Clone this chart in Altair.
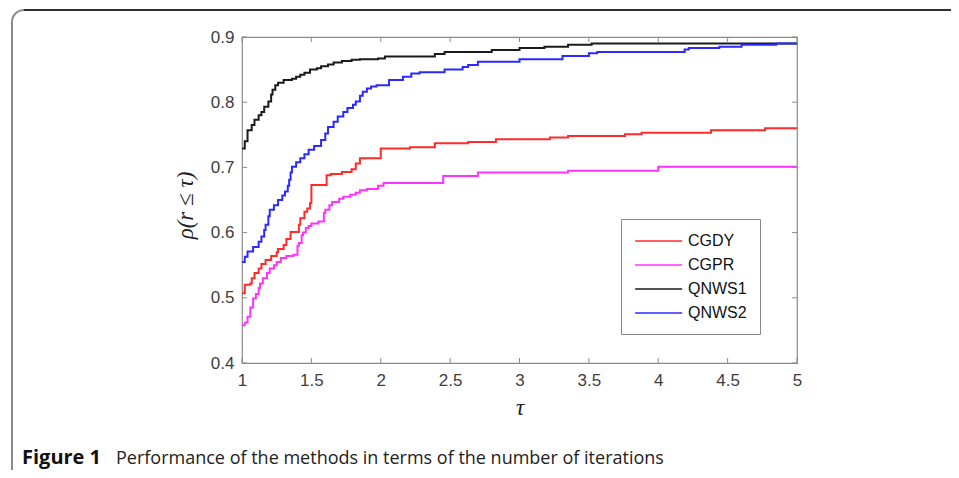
import altair as alt
import pandas as pd

methods = ["CGDY", "CGPR", "QNWS1", "QNWS2"]
colors = ["#ff2a2a", "#ff33ff", "#1a1a1a", "#2a2aff"]

cgdy_tau = [1.00, 1.02, 1.06, 1.07, 1.09, 1.12, 1.14, 1.17, 1.21, 1.25, 1.26, 1.30, 1.32, 1.35,
            1.41, 1.42, 1.45, 1.47, 1.49, 1.50, 1.61, 1.64, 1.72, 1.79, 1.82, 1.85, 2.00, 2.21,
            2.39, 2.63, 2.83, 3.22, 3.35, 3.76, 3.88, 4.38, 4.77, 5.00]
cgdy_rho = [0.507, 0.520, 0.522, 0.530, 0.538, 0.545, 0.552, 0.558, 0.564, 0.570, 0.575, 0.581,
            0.590, 0.601, 0.612, 0.622, 0.632, 0.637, 0.645, 0.673, 0.688, 0.690, 0.693, 0.697,
            0.706, 0.714, 0.729, 0.731, 0.737, 0.739, 0.743, 0.746, 0.748, 0.751, 0.753, 0.757,
            0.760, 0.760]

cgpr_tau = [1.00, 1.02, 1.04, 1.06, 1.08, 1.10, 1.12, 1.13, 1.15, 1.18, 1.20, 1.23, 1.25, 1.28,
            1.32, 1.37, 1.40, 1.41, 1.43, 1.44, 1.46, 1.48, 1.50, 1.55, 1.59, 1.60, 1.63, 1.65,
            1.70, 1.73, 1.78, 1.82, 1.85, 1.90, 1.98, 2.02, 2.45, 2.70, 3.35, 4.00, 5.00]
cgpr_rho = [0.458, 0.462, 0.471, 0.485, 0.499, 0.506, 0.515, 0.522, 0.530, 0.538, 0.545, 0.550,
            0.555, 0.561, 0.564, 0.566, 0.580, 0.584, 0.596, 0.600, 0.607, 0.610, 0.614, 0.617,
            0.630, 0.635, 0.642, 0.647, 0.652, 0.655, 0.658, 0.661, 0.665, 0.667, 0.672, 0.676,
            0.687, 0.692, 0.695, 0.701, 0.701]

qnws1_tau = [1.00, 1.02, 1.04, 1.07, 1.09, 1.12, 1.14, 1.16, 1.19, 1.21, 1.22, 1.24, 1.26, 1.30,
             1.36, 1.39, 1.42, 1.45, 1.49, 1.54, 1.57, 1.62, 1.66, 1.72, 1.79, 1.85, 1.98, 2.03,
             2.39, 2.46, 2.80, 3.00, 3.18, 3.35, 3.52, 5.00]
qnws1_rho = [0.729, 0.740, 0.757, 0.765, 0.773, 0.780, 0.785, 0.793, 0.801, 0.812, 0.819, 0.826,
             0.830, 0.834, 0.836, 0.839, 0.842, 0.845, 0.850, 0.852, 0.855, 0.858, 0.861, 0.863,
             0.865, 0.866, 0.867, 0.870, 0.874, 0.877, 0.880, 0.883, 0.885, 0.888, 0.890, 0.890]

qnws2_tau = [1.00, 1.02, 1.04, 1.08, 1.12, 1.14, 1.16, 1.17, 1.19, 1.20, 1.23, 1.26, 1.29, 1.31,
             1.33, 1.34, 1.35, 1.36, 1.39, 1.42, 1.45, 1.48, 1.52, 1.57, 1.60, 1.62, 1.66, 1.69,
             1.73, 1.76, 1.80, 1.82, 1.85, 1.87, 1.90, 1.93, 1.97, 2.06, 2.16, 2.22, 2.28, 2.46,
             2.59, 2.63, 2.70, 3.00, 3.31, 3.50, 3.56, 4.19, 4.22, 4.44, 4.60, 4.85, 5.00]
qnws2_rho = [0.555, 0.563, 0.571, 0.578, 0.586, 0.594, 0.604, 0.612, 0.625, 0.635, 0.642, 0.650,
             0.657, 0.663, 0.672, 0.681, 0.692, 0.701, 0.708, 0.714, 0.720, 0.727, 0.733, 0.742,
             0.752, 0.762, 0.770, 0.778, 0.785, 0.791, 0.796, 0.801, 0.810, 0.816, 0.821, 0.824,
             0.826, 0.834, 0.839, 0.844, 0.846, 0.850, 0.854, 0.857, 0.862, 0.866, 0.871, 0.875,
             0.877, 0.881, 0.883, 0.885, 0.888, 0.890, 0.890]

x_ticks = [1, 1.5, 2, 2.5, 3, 3.5, 4, 4.5, 5]
y_ticks = [0.4, 0.5, 0.6, 0.7, 0.8, 0.9]

caption_bold = "Figure 1"
caption_text = "Performance of the methods in terms of the number of iterations"

W, H = 555, 326

series = {
    "CGDY": (cgdy_tau, cgdy_rho),
    "CGPR": (cgpr_tau, cgpr_rho),
    "QNWS1": (qnws1_tau, qnws1_rho),
    "QNWS2": (qnws2_tau, qnws2_rho),
}
rows = []
for order, m in enumerate(methods):
    t, r = series[m]
    for a, b in zip(t, r):
        rows.append({"method": m, "tau": a, "rho": b, "order": order})
df = pd.DataFrame(rows)

xs = alt.Scale(domain=[1, 5], nice=False, zero=False)
ys = alt.Scale(domain=[0.4, 0.9], nice=False, zero=False)

x_axis = alt.Axis(values=x_ticks, format="~g", title="τ", grid=False, ticks=False,
                  tickSize=0, domain=False, labelPadding=9, labelFontSize=17,
                  labelFlush=False,
                  labelFont="Liberation Sans", labelColor="#404040",
                  titleFont="Liberation Serif", titleFontStyle="italic",
                  titleFontWeight="normal", titleFontSize=23, titleColor="#222",
                  titleY=44, titleBaseline="middle")
y_axis = alt.Axis(values=y_ticks, format=".1f", title="ρ(r ≤ τ)", grid=False,
                  ticks=False, tickSize=0, domain=False, labelPadding=8,
                  labelFontSize=17, labelFlush=False,
                  labelFont="Liberation Sans", labelColor="#404040",
                  titleFont="Liberation Serif", titleFontStyle="italic",
                  titleFontWeight="normal", titleFontSize=23, titleColor="#222",
                  titleX=-57, titleY=H / 2 + 5, titleBaseline="middle", titleAngle=-90)

# frame around the figure
frame = alt.Chart(pd.DataFrame({"a": [0]})).mark_rect(
    fill=None, stroke="#8a8a8a", strokeWidth=2, cornerRadiusTopLeft=12
).encode(
    x=alt.value(-230), x2=alt.value(W + 300),
    y=alt.value(-27), y2=alt.value(H + 300),
)
frame_top = alt.Chart(pd.DataFrame({"a": [0]})).mark_rule(
    color="#111", strokeWidth=1.5
).encode(x=alt.value(-218), x2=alt.value(W + 300), y=alt.value(-27))

lines = alt.Chart(df).mark_line(interpolate="step-after", strokeWidth=2, clip=True).encode(
    x=alt.X("tau:Q", scale=xs, axis=x_axis),
    y=alt.Y("rho:Q", scale=ys, axis=y_axis),
    color=alt.Color("method:N", scale=alt.Scale(domain=methods, range=colors),
                    legend=alt.Legend(title=None, orient="none", legendX=379, legendY=182,
                                      symbolType="M-1,0H5", symbolSize=245,
                                      symbolStrokeWidth=1.5, labelFontSize=16,
                                      labelFont="Liberation Sans", labelColor="#111",
                                      padding=13, strokeColor="#8a8a8a", fillColor="white",
                                      rowPadding=7, labelOffset=36)),
    order="order:Q",
    detail="method:N",
)

xt = pd.DataFrame({"v": x_ticks})
yt = pd.DataFrame({"v": y_ticks})
tick_color = "#8a8a8a"
tb = alt.Chart(xt).mark_rule(color=tick_color).encode(x=alt.X("v:Q", scale=xs, axis=x_axis), y=alt.value(H), y2=alt.value(H - 5))
tt = alt.Chart(xt).mark_rule(color=tick_color).encode(x=alt.X("v:Q", scale=xs, axis=x_axis), y=alt.value(0), y2=alt.value(5))
tl = alt.Chart(yt).mark_rule(color=tick_color).encode(y=alt.Y("v:Q", scale=ys, axis=y_axis), x=alt.value(0), x2=alt.value(5))
tr = alt.Chart(yt).mark_rule(color=tick_color).encode(y=alt.Y("v:Q", scale=ys, axis=y_axis), x=alt.value(W), x2=alt.value(W - 5))

cap1 = alt.Chart(pd.DataFrame({"t": [caption_bold]})).mark_text(
    align="left", baseline="alphabetic", font="Open Sans", fontSize=20, fontWeight="bold", color="#111"
).encode(text="t:N", x=alt.value(-220), y=alt.value(427))
cap2 = alt.Chart(pd.DataFrame({"t": [caption_text]})).mark_text(
    align="left", baseline="alphabetic", font="Open Sans", fontSize=18, color="#222"
).encode(text="t:N", x=alt.value(-126), y=alt.value(427))

chart = alt.layer(lines, tb, tt, tl, tr, frame, frame_top, cap1, cap2).properties(
    width=W, height=H,
    padding={"left": 234, "top": 29, "right": 154, "bottom": 107},
    autosize=alt.AutoSizeParams(type="none"),
).configure_view(stroke="#8a8a8a", strokeWidth=1.2)

chart.save("out.html", embed_options={"renderer": "svg", "actions": False})
